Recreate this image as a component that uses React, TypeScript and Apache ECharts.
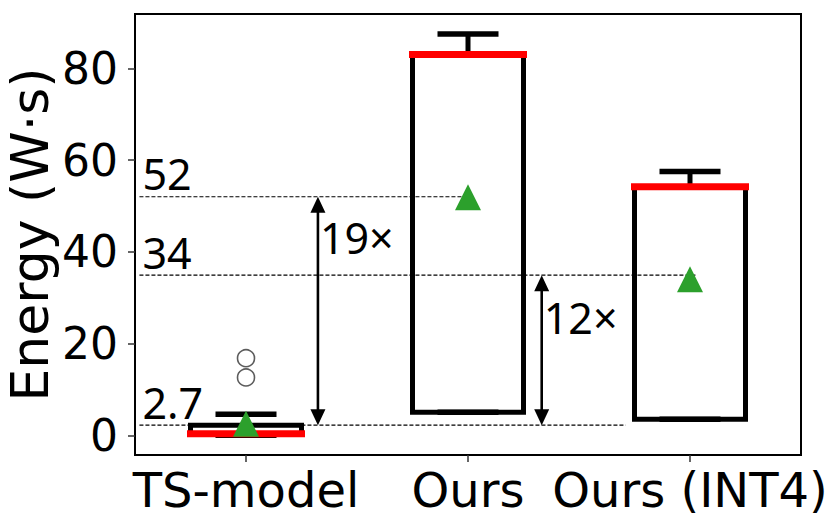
import React, { useEffect, useRef } from "react";
import * as echarts from "echarts";

// ---- data ----
const categories = ["TS-model", "Ours", "Ours (INT4)"];
const whiskerLow = [0.0, 5.0, 3.5];
const q1 = [0.3, 5.0, 3.5];
const medians = [0.35, 83.0, 54.2];
const q3 = [2.2, 83.0, 54.2];
const whiskerHigh = [4.6, 87.5, 57.5];
const means = [2.5, 51.9, 34.0];
const outlierCategory = [0, 0];
const outlierValues = [12.6, 16.8];
const yTicks = [0, 20, 40, 60, 80];
const xTicks = [0, 1, 2];

// reference (dashed) lines
const refValues = [52.0, 34.9, 2.2];
const refLabels = ["52", "34", "2.7"];
const refStartX = -0.48;
const refEndX = [1.0, 2.03, 1.71];

// ratio arrows
const ratioLabels = ["19×", "12×"];
const ratioFrom = [52.0, 34.9];
const ratioTo = [2.2, 2.2];
const ratioX = [0.324, 1.332];
const ratioLabelY = [43.2, 25.7];

const FONT = "DejaVu Sans";
const ANNOT_FONT = "Noto Sans";

export default function App() {
  const ref = useRef<HTMLDivElement>(null);

  useEffect(() => {
    document.body.style.margin = "0";
    const chart = echarts.init(ref.current!, null, { renderer: "svg" });

    const boxData = categories.map((_, i) => [
      i,
      whiskerLow[i],
      q1[i],
      medians[i],
      q3[i],
      whiskerHigh[i],
    ]);

    const option: any = {
      animation: false,
      grid: {
        left: 135,
        top: 14,
        width: 666,
        height: 441,
        show: true,
        borderColor: "#000",
        borderWidth: 2,
        backgroundColor: "transparent",
        containLabel: false,
        outerBoundsMode: "none",
      },
      xAxis: {
        type: "value",
        min: -0.5,
        max: 2.5,
        axisLine: { show: false, onZero: false },
        axisTick: {
          show: true,
          length: 7,
          customValues: xTicks,
          lineStyle: { color: "#333", width: 1.5 },
        },
        axisLabel: {
          customValues: xTicks,
          formatter: (v: number) => categories[Math.round(v)] ?? "",
          fontSize: 48,
          color: "#000",
          fontFamily: FONT,
          margin: 11,
        },
        splitLine: { show: false },
      },
      yAxis: {
        type: "value",
        min: -4.3,
        max: 91.84,
        axisLine: { show: false, onZero: false },
        axisTick: {
          show: true,
          length: 7,
          customValues: yTicks,
          lineStyle: { color: "#333", width: 1.5 },
        },
        axisLabel: {
          customValues: yTicks,
          fontSize: 44,
          color: "#000",
          fontFamily: FONT,
          margin: 17,
        },
        splitLine: { show: false },
        name: "Energy (W·s)",
        nameLocation: "middle",
        nameGap: 79,
        nameMoveOverlap: false,
        nameTextStyle: { fontSize: 52, color: "#000", fontFamily: FONT },
      },
      series: [
        // dashed reference lines + labels
        {
          type: "custom",
          silent: true,
          z: 1,
          data: refValues.map((v, i) => [i, v]),
          encode: { x: 0, y: 1 },
          renderItem: (params: any, api: any) => {
            const i = api.value(0);
            const v = api.value(1);
            const a = api.coord([refStartX, v]);
            const b = api.coord([refEndX[i], v]);
            return {
              type: "group",
              children: [
                {
                  type: "line",
                  shape: { x1: a[0], y1: a[1], x2: b[0], y2: b[1] },
                  style: { stroke: "#000", lineWidth: 1.2, lineDash: [4, 2] },
                },
                {
                  type: "text",
                  x: a[0] + 3,
                  y: a[1] - 23,
                  style: {
                    text: refLabels[i],
                    fontSize: 43,
                    fontFamily: ANNOT_FONT,
                    fill: "#000",
                    align: "left",
                    verticalAlign: "middle",
                    textAlign: "left",
                    textVerticalAlign: "middle",
                  },
                },
              ],
            };
          },
        },
        // boxes
        {
          type: "custom",
          silent: true,
          z: 2,
          data: boxData,
          encode: { x: 0, y: [1, 2, 3, 4, 5] },
          renderItem: (params: any, api: any) => {
            const i = api.value(0);
            const lo = api.value(1);
            const b1 = api.value(2);
            const med = api.value(3);
            const b3 = api.value(4);
            const hi = api.value(5);
            const hw = 0.25;
            const cw = 0.125;
            const c = (x: number, y: number) => api.coord([x, y]);
            const tl = c(i - hw, b3);
            const br = c(i + hw, b1);
            const ln = (p: number[], q: number[], style: any) => ({
              type: "line",
              shape: { x1: p[0], y1: p[1], x2: q[0], y2: q[1] },
              style,
            });
            const black = { stroke: "#000", lineWidth: 5 };
            const capStyle = { stroke: "#000", lineWidth: 5.5, lineCap: "square" };
            return {
              type: "group",
              children: [
                ln(c(i, b3), c(i, hi), black),
                ln(c(i, b1), c(i, lo), black),
                ln(c(i - cw, hi), c(i + cw, hi), capStyle),
                ln(c(i - cw, lo), c(i + cw, lo), capStyle),
                {
                  type: "rect",
                  shape: {
                    x: tl[0],
                    y: tl[1],
                    width: br[0] - tl[0],
                    height: br[1] - tl[1],
                  },
                  style: {
                    fill: "none",
                    stroke: "#000",
                    lineWidth: 5,
                    lineJoin: "miter",
                  },
                },
                ln(c(i - hw, med), c(i + hw, med), {
                  stroke: "#ff0000",
                  lineWidth: 7,
                  lineCap: "square",
                }),
              ],
            };
          },
        },
        // ratio arrows
        {
          type: "custom",
          silent: true,
          z: 3,
          data: ratioFrom.map((v, i) => [ratioX[i], v, ratioTo[i], ratioLabelY[i], i]),
          encode: { x: 0, y: [1, 2, 3] },
          renderItem: (params: any, api: any) => {
            const x = api.value(0);
            const from = api.value(1);
            const to = api.value(2);
            const ly = api.value(3);
            const k = api.value(4);
            const t = api.coord([x, from]);
            const b = api.coord([x, to]);
            const l = api.coord([x, ly]);
            const hw = 7.5;
            const hh = 16;
            return {
              type: "group",
              children: [
                {
                  type: "line",
                  shape: { x1: t[0], y1: t[1] + hh - 2, x2: b[0], y2: b[1] - hh + 2 },
                  style: { stroke: "#000", lineWidth: 2.6 },
                },
                {
                  type: "polygon",
                  shape: {
                    points: [
                      [t[0], t[1]],
                      [t[0] - hw, t[1] + hh],
                      [t[0] + hw, t[1] + hh],
                    ],
                  },
                  style: { fill: "#000" },
                },
                {
                  type: "polygon",
                  shape: {
                    points: [
                      [b[0], b[1]],
                      [b[0] - hw, b[1] - hh],
                      [b[0] + hw, b[1] - hh],
                    ],
                  },
                  style: { fill: "#000" },
                },
                {
                  type: "text",
                  x: l[0] + 2,
                  y: l[1],
                  style: {
                    text: ratioLabels[k],
                    fontSize: 43,
                    fontFamily: ANNOT_FONT,
                    fill: "#000",
                    align: "left",
                    verticalAlign: "middle",
                    textAlign: "left",
                    textVerticalAlign: "middle",
                  },
                },
              ],
            };
          },
        },
        // outliers
        {
          type: "scatter",
          silent: true,
          z: 4,
          data: outlierValues.map((v, k) => [outlierCategory[k], v]),
          symbol: "circle",
          symbolSize: 17,
          itemStyle: {
            color: "rgba(0,0,0,0)",
            borderColor: "#333",
            borderWidth: 1.6,
          },
        },
        // means
        {
          type: "scatter",
          silent: true,
          z: 5,
          data: means.map((m, i) => [i, m]),
          symbol: "triangle",
          symbolSize: [26, 26],
          itemStyle: { color: "#2ca02c", opacity: 1 },
        },
      ],
    };

    chart.setOption(option);
    return () => chart.dispose();
  }, []);

  return <div ref={ref} style={{ width: 831, height: 517 }} />;
}
